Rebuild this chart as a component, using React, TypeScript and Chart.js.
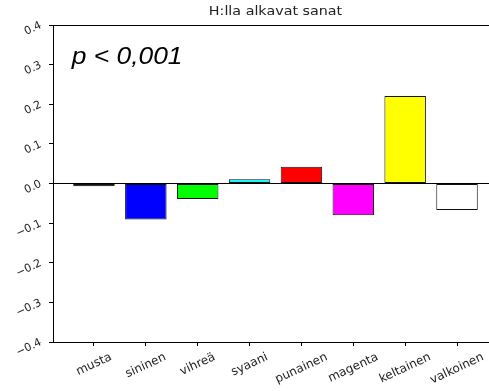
import React, { useEffect, useRef } from 'react';
import { Chart, registerables } from 'chart.js';

Chart.register(...registerables);

// ---- data ----
const chartTitle = 'H:lla alkavat sanat';
const annotationText = 'p < 0,001';
const categories = ['musta', 'sininen', 'vihreä', 'syaani', 'punainen', 'magenta', 'keltainen', 'valkoinen'];
const values = [-0.007, -0.091, -0.039, 0.011, 0.042, -0.080, 0.221, -0.067];
const barColors = ['#000000', '#0000ff', '#00ff00', '#00ffff', '#ff0000', '#ff00ff', '#ffff00', '#ffffff'];
const yTickValues = [-0.4, -0.3, -0.2, -0.1, 0, 0.1, 0.2, 0.3, 0.4];
const yMin = -0.4;
const yMax = 0.4;
const xMin = -0.79;
const xMax = 7.79;

// ---- layout ----
const W = 510;
const H = 391;
const AREA_LEFT = 53;
const AREA_RIGHT = 498;
const AREA_TOP = 25;
const AREA_BOTTOM = 342;
const ROT = 25;

function fmt(v: number): string {
  if (Math.abs(v) < 1e-9) return '0.0';
  return v < 0 ? '\u2212' + Math.abs(v).toFixed(1) : v.toFixed(1);
}

function drawText(
  ctx: CanvasRenderingContext2D,
  text: string,
  x: number,
  y: number,
  font: string,
  sx: number,
  align: CanvasTextAlign,
  baseline: CanvasTextBaseline,
  rot: number
) {
  ctx.save();
  ctx.translate(x, y);
  ctx.rotate(rot);
  ctx.scale(sx, 1);
  ctx.font = font;
  ctx.textAlign = align;
  ctx.textBaseline = baseline;
  ctx.fillText(text, 0, 0);
  ctx.restore();
}

const overlayPlugin = {
  id: 'overlay',
  afterDraw(chart: any) {
    const { ctx, chartArea: a, scales } = chart;
    ctx.save();
    // top spine
    ctx.strokeStyle = '#000';
    ctx.lineWidth = 1;
    const ty = Math.round(a.top) + 0.5;
    ctx.beginPath();
    ctx.moveTo(a.left, ty);
    ctx.lineTo(a.right, ty);
    ctx.stroke();

    // title
    ctx.fillStyle = '#222';
    drawText(ctx, chartTitle, (a.left + a.right) / 2, 12, '13px "DejaVu Sans"', 1.1, 'center', 'middle', 0);

    // annotation
    ctx.fillStyle = '#000';
    drawText(ctx, annotationText, a.left + 18.7, a.top + 38.5, 'italic 24px "Liberation Sans"', 1.1, 'left', 'alphabetic', 0);

    // x tick labels, centered and rotated
    const xs = scales.x;
    const th = (ROT * Math.PI) / 180;
    ctx.fillStyle = '#222';
    ctx.font = '12px "DejaVu Sans"';
    categories.forEach((c, i) => {
      const px = xs.getPixelForValue(i);
      const w = ctx.measureText(c).width;
      const bh = w * Math.sin(th) + 10 * Math.cos(th);
      const cy = a.bottom + 10 + bh / 2;
      drawText(ctx, c, px, cy, '12px "DejaVu Sans"', 1, 'center', 'middle', -th);
    });
    ctx.restore();
  },
};

export default function App() {
  const ref = useRef<HTMLCanvasElement>(null);

  useEffect(() => {
    if (!ref.current) return;
    const chart = new Chart(ref.current, {
      type: 'bar',
      data: {
        datasets: [
          {
            data: categories.map((_, i) => ({ x: i, y: values[i] })),
            backgroundColor: barColors,
            borderColor: '#111',
            borderWidth: 1,
            borderSkipped: false,
            barPercentage: 0.8,
            categoryPercentage: 1,
          } as any,
        ],
      },
      options: {
        responsive: false,
        animation: false,
        devicePixelRatio: 1,
        layout: { padding: { top: AREA_TOP, right: W - AREA_RIGHT, left: 0, bottom: 0 } },
        plugins: {
          legend: { display: false },
          tooltip: { enabled: false },
          title: { display: false },
        },
        scales: {
          x: {
            type: 'linear',
            min: xMin,
            max: xMax,
            offset: false,
            afterBuildTicks: (s: any) => {
              s.ticks = categories.map((_, i) => ({ value: i }));
            },
            ticks: { display: false },
            grid: {
              display: true,
              offset: false,
              drawOnChartArea: false,
              drawTicks: true,
              tickLength: 4,
              color: '#000',
              tickColor: '#000',
            },
            border: { display: true, color: '#000', width: 1 },
            afterFit: (s: any) => {
              s.height = H - AREA_BOTTOM;
            },
          },
          y: {
            type: 'linear',
            min: yMin,
            max: yMax,
            afterBuildTicks: (s: any) => {
              s.ticks = yTickValues.map((v) => ({ value: v }));
            },
            ticks: {
              minRotation: ROT,
              maxRotation: ROT,
              padding: 8,
              color: '#222',
              font: { family: 'DejaVu Sans', size: 11 },
              callback: (v: any) => fmt(Number(v)),
            },
            grid: {
              drawOnChartArea: true,
              drawTicks: true,
              tickLength: 4,
              lineWidth: 1,
              color: (c: any) => (c.tick && Math.abs(c.tick.value) < 1e-9 ? '#000' : 'rgba(0,0,0,0)'),
              tickColor: '#000',
            },
            border: { display: true, color: '#000', width: 1 },
            afterFit: (s: any) => {
              s.width = AREA_LEFT;
            },
          },
        },
      } as any,
      plugins: [overlayPlugin],
    });
    return () => chart.destroy();
  }, []);

  return (
    <div
      style={{
        position: 'absolute',
        left: 0,
        top: 0,
        width: 489,
        height: 391,
        overflow: 'hidden',
        background: '#fff',
      }}
    >
      <canvas ref={ref} width={W} height={H} style={{ display: 'block', width: W, height: H }} />
    </div>
  );
}
